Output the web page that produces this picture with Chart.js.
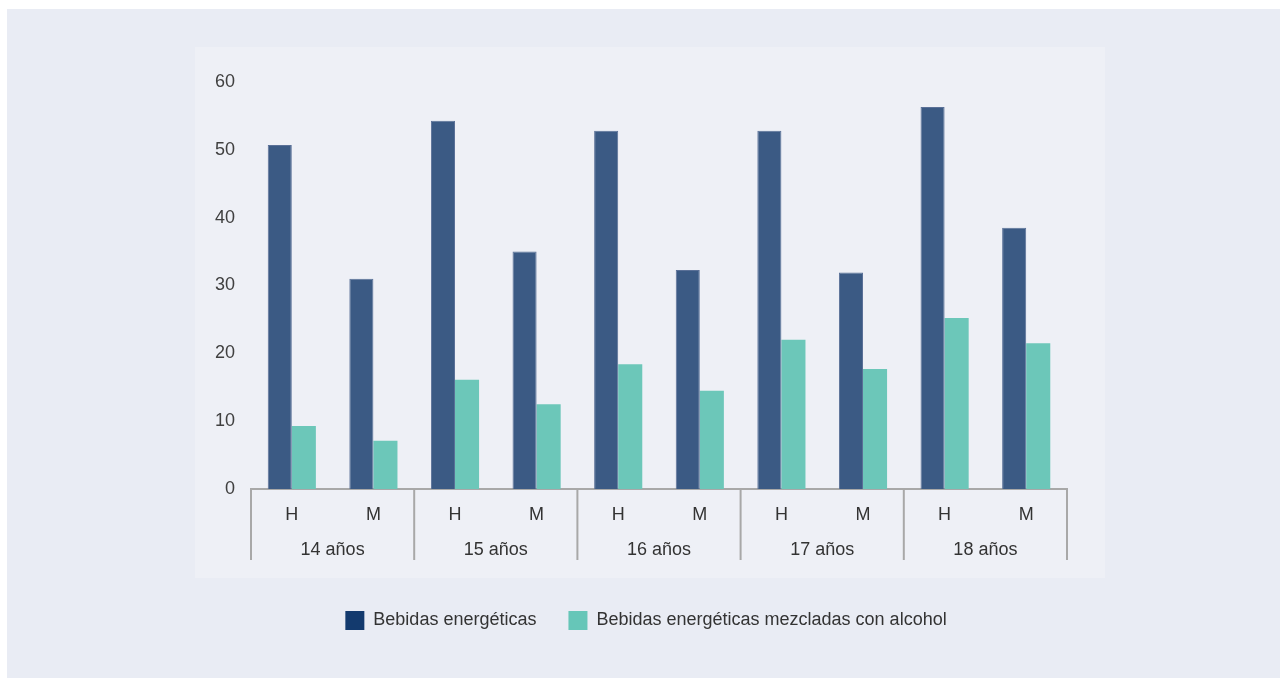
<!DOCTYPE html>
<html>
<head>
<meta charset="utf-8">
<script src="https://cdn.jsdelivr.net/npm/chart.js@4/dist/chart.umd.min.js"></script>
<style>
  body { margin: 0; background: #ffffff; }
  #wrap { position: absolute; left: 7px; top: 9px; width: 1273px; height: 669px; background: #e9ecf4; }
  #panel { position: absolute; left: 188px; top: 38px; width: 910px; height: 531px; background: #eef0f6; }
  #c { position: absolute; left: 0; top: 0; }
</style>
</head>
<body>
<div id="wrap">
  <div id="panel"></div>
  <canvas id="c" width="1273" height="669"></canvas>
</div>
<script>
// datos
var sexos = ['H', 'M'];
var edades = ['14 años', '15 años', '16 años', '17 años', '18 años'];
var energeticas = [50.7, 31.0, 54.3, 35.0, 52.8, 32.3, 52.8, 31.9, 56.3, 38.5];
var conAlcohol = [9.3, 7.1, 16.1, 12.5, 18.4, 14.5, 22.0, 17.7, 25.2, 21.5];
var yTicks = [0, 10, 20, 30, 40, 50, 60];

var labels = [];
for (var i = 0; i < edades.length; i++) {
  labels.push(sexos[0]);
  labels.push(sexos[1]);
}

var legendColors = ['#133a6e', '#66c6b8'];
var fuente = '"Liberation Sans", Arial, sans-serif';

// separadores y etiquetas de edad bajo el eje x
var gruposPlugin = {
  id: 'grupos',
  beforeDraw: function(chart) {
    // la leyenda del original esta un poco a la derecha
    if (chart.legend && !chart.legend._movida) {
      chart.legend.left += 17;
      chart.legend.right += 17;
      chart.legend._movida = true;
    }
  },
  afterDraw: function(chart) {
    var ctx = chart.ctx;
    var xs = chart.scales.x;
    var area = chart.chartArea;
    var half = (xs.getPixelForValue(1) - xs.getPixelForValue(0)) / 2;
    ctx.save();
    ctx.strokeStyle = '#a8a8a8';
    ctx.lineWidth = 2;
    for (var g = 0; g <= edades.length; g++) {
      var px = xs.getPixelForValue(g * 2) - half;
      ctx.beginPath();
      ctx.moveTo(px, area.bottom);
      ctx.lineTo(px, area.bottom + 71);
      ctx.stroke();
    }
    ctx.fillStyle = '#333333';
    ctx.font = '18px ' + fuente;
    ctx.textAlign = 'center';
    ctx.textBaseline = 'middle';
    for (var k = 0; k < edades.length; k++) {
      var cx = (xs.getPixelForValue(k * 2) + xs.getPixelForValue(k * 2 + 1)) / 2;
      ctx.fillText(edades[k], cx, area.bottom + 61);
    }
    ctx.restore();
  }
};

var config = {
  type: 'bar',
  data: {
    labels: labels,
    datasets: [
      {
        label: 'Bebidas energéticas',
        data: energeticas,
        backgroundColor: '#3b5a84',
        borderColor: '#5a7097',
        borderWidth: 1,
        categoryPercentage: 0.59,
        barPercentage: 1.0
      },
      {
        label: 'Bebidas energéticas mezcladas con alcohol',
        data: conAlcohol,
        backgroundColor: '#6cc7b9',
        borderWidth: 0,
        categoryPercentage: 0.59,
        barPercentage: 1.0
      }
    ]
  },
  options: {
    responsive: false,
    animation: false,
    layout: { padding: { left: 184, right: 213, top: 73, bottom: 38 } },
    plugins: {
      tooltip: { enabled: false },
      legend: {
        position: 'bottom',
        labels: {
          boxWidth: 19,
          boxHeight: 19,
          padding: 32,
          color: '#333333',
          font: { family: fuente, size: 18 },
          generateLabels: function(chart) {
            return chart.data.datasets.map(function(ds, i) {
              return {
                text: ds.label,
                fillStyle: legendColors[i],
                strokeStyle: legendColors[i],
                lineWidth: 0,
                fontColor: '#333333',
                datasetIndex: i
              };
            });
          }
        }
      }
    },
    scales: {
      x: {
        grid: { display: false },
        border: { display: true, color: '#a8a8a8', width: 2 },
        ticks: {
          color: '#333333',
          padding: 7,
          font: { family: fuente, size: 18 }
        },
        afterFit: function(scale) { scale.height = 90; }
      },
      y: {
        min: 0,
        max: 60,
        grid: { display: false },
        border: { display: false },
        afterBuildTicks: function(scale) {
          scale.ticks = yTicks.map(function(v) { return { value: v }; });
        },
        ticks: {
          color: '#404040',
          padding: 8,
          font: { family: fuente, size: 18 }
        },
        afterFit: function(scale) { scale.width = 60; }
      }
    }
  },
  plugins: [gruposPlugin]
};

new Chart(document.getElementById('c'), config);
</script>
</body>
</html>
